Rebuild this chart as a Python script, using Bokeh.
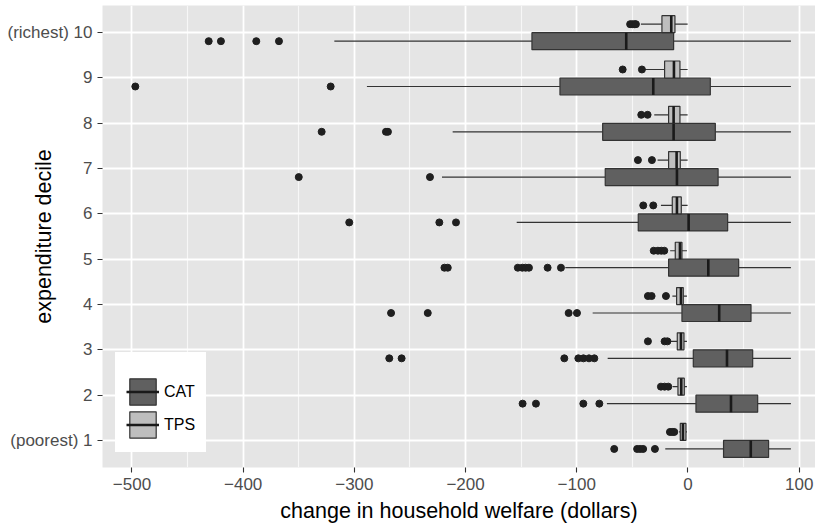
from bokeh.plotting import figure
from bokeh.models import ColumnDataSource, FixedTicker, Legend, LegendItem, Range1d
from bokeh.transform import dodge
from bokeh.embed import file_html
from bokeh.resources import INLINE

# ---------------- data ----------------
deciles = [1, 2, 3, 4, 5, 6, 7, 8, 9, 10]
decile_labels = ["(poorest) 1", "2", "3", "4", "5", "6", "7", "8", "9", "(richest) 10"]
groups = ["CAT", "TPS"]

cat_lo = [-20.4, -72.9, -72.2, -85.7, -110.3, -154.0, -221.2, -211.6, -288.7, -318.0]
cat_q1 = [32.0, 7.2, 4.8, -5.4, -17.4, -44.7, -74.4, -76.7, -115.1, -140.3]
cat_med = [56.5, 38.7, 35.1, 28.1, 18.3, 0.6, -9.9, -12.9, -31.2, -55.5]
cat_q3 = [72.5, 62.7, 58.2, 56.7, 45.6, 35.7, 27.1, 24.6, 20.1, -12.9]
cat_hi = [92.6, 92.6, 92.6, 92.6, 92.6, 92.6, 92.6, 92.6, 92.6, 92.6]
cat_outliers = [
    [-66.3, -45.7, -43.0, -40.3, -29.7],
    [-148.7, -136.7, -94.1, -79.7],
    [-268.6, -257.5, -111.2, -98.6, -94.0, -89.0, -84.2],
    [-267.0, -234.0, -107.3, -99.8],
    [-219.0, -216.0, -153.0, -149.0, -146.0, -143.0, -126.2, -114.2],
    [-304.6, -223.6, -208.6],
    [-350.0, -232.0],
    [-329.4, -271.6, -269.8],
    [-497.0, -321.3],
    [-431.0, -420.0, -388.2, -367.8],
]

tps_lo = [-8.0, -13.8, -15.9, -14.0, -16.0, -24.3, -27.3, -30.3, -38.7, -42.3]
tps_q1 = [-6.9, -9.0, -9.6, -10.2, -11.4, -14.1, -17.4, -17.4, -21.0, -23.4]
tps_med = [-4.5, -6.0, -6.3, -6.3, -7.2, -9.9, -10.2, -12.9, -12.6, -15.0]
tps_q3 = [-1.8, -3.3, -3.6, -4.2, -5.4, -6.0, -6.9, -7.2, -7.2, -11.7]
tps_hi = [-0.9, -0.9, -0.9, -0.9, -0.9, -0.3, -0.3, -0.3, -0.3, -0.3]
tps_outliers = [
    [-16.2, -14.0, -12.3],
    [-24.3, -21.0, -17.7],
    [-36.0, -21.0, -18.5],
    [-36.0, -32.7, -19.8],
    [-30.8, -27.0, -24.0, -21.3],
    [-40.2, -31.2],
    [-45.0, -32.4],
    [-42.0, -36.3],
    [-58.7, -41.4],
    [-52.0, -50.0, -48.0, -46.8],
]

x_ticks = [-500, -400, -300, -200, -100, 0, 100]
x_minor = [-450, -350, -250, -150, -50, 50]

# ---------------- styling ----------------
FONT = "Liberation Sans"
fills = {"CAT": "#606060", "TPS": "#BEBEBE"}
offsets = {"CAT": -0.1875, "TPS": 0.1875}
BOX_H = 0.375

p = figure(width=815, height=525, output_backend="svg", toolbar_location=None,
           x_range=Range1d(-526.5, 114.7), y_range=Range1d(0.403, 10.6),
           min_border_left=102, min_border_right=0, min_border_top=5, min_border_bottom=58)
p.background_fill_color = "#E5E5E5"
p.border_fill_color = "white"
p.outline_line_color = None

p.xaxis.ticker = FixedTicker(ticks=x_ticks, minor_ticks=x_minor)
p.yaxis.ticker = FixedTicker(ticks=deciles)
p.yaxis.major_label_overrides = {d: lab for d, lab in zip(deciles, decile_labels)}

p.xgrid.grid_line_color = "white"
p.xgrid.grid_line_width = 1.8
p.xgrid.minor_grid_line_color = "#F7F7F7"
p.xgrid.minor_grid_line_width = 1.1
p.ygrid.grid_line_color = "white"
p.ygrid.grid_line_width = 1.8

p.axis.axis_line_color = None
p.axis.major_tick_line_color = "#333333"
p.axis.major_tick_line_width = 1.1
p.axis.major_tick_out = 5
p.axis.major_tick_in = 0
p.axis.minor_tick_line_color = None
p.axis.major_label_text_color = "#4D4D4D"
p.axis.major_label_text_font = FONT
p.axis.major_label_text_font_size = "17px"
p.xaxis.major_label_standoff = 5
p.yaxis.major_label_standoff = 5
p.axis.axis_label_text_font = FONT
p.axis.axis_label_text_font_size = "21.5px"
p.axis.axis_label_text_font_style = "normal"
p.axis.axis_label_text_color = "black"
p.xaxis.axis_label = "change in household welfare (dollars)"
p.xaxis.axis_label_standoff = 6
p.yaxis.axis_label = "expenditure decile"
p.yaxis.axis_label_standoff = -52

stats = {
    "CAT": (cat_lo, cat_q1, cat_med, cat_q3, cat_hi, cat_outliers),
    "TPS": (tps_lo, tps_q1, tps_med, tps_q3, tps_hi, tps_outliers),
}

legend_items = []
for g in groups:
    lo, q1, med, q3, hi, outs = stats[g]
    off = offsets[g]
    src = ColumnDataSource(dict(decile=deciles, lo=lo, q1=q1, med=med, q3=q3, hi=hi))
    yc = dodge("decile", off)
    p.segment(x0="lo", x1="q1", y0=yc, y1=yc, source=src, line_color="#333333", line_width=1.2)
    p.segment(x0="q3", x1="hi", y0=yc, y1=yc, source=src, line_color="#333333", line_width=1.2)
    box = p.hbar(y=yc, left="q1", right="q3", height=BOX_H, source=src,
                 fill_color=fills[g], line_color="#333333", line_width=1.2)
    medr = p.segment(x0="med", x1="med", y0=dodge("decile", off - BOX_H / 2),
                     y1=dodge("decile", off + BOX_H / 2), source=src,
                     line_color="#1A1A1A", line_width=2.6)
    od, ov = [], []
    for d, vals in zip(deciles, outs):
        for v in vals:
            od.append(d)
            ov.append(v)
    osrc = ColumnDataSource(dict(decile=od, value=ov))
    p.scatter(x="value", y=dodge("decile", off), source=osrc, size=7,
              fill_color="#1F1F1F", line_color="#1F1F1F")
    legend_items.append(LegendItem(label=g, renderers=[box, medr]))

legend = Legend(items=legend_items, location=(13, 15))
legend.title = " "
legend.title_text_font_size = "11px"
legend.title_standoff = 0
legend.background_fill_color = "white"
legend.background_fill_alpha = 1.0
legend.border_line_color = "white"
legend.border_line_width = 1
legend.padding = 10
legend.spacing = 0
legend.margin = 0
legend.glyph_width = 33
legend.glyph_height = 33
legend.label_height = 33
legend.label_standoff = 5
legend.label_text_font = FONT
legend.label_text_font_size = "16px"
legend.label_text_color = "black"
p.add_layout(legend)

open("out.html", "w").write(file_html(p, INLINE))
